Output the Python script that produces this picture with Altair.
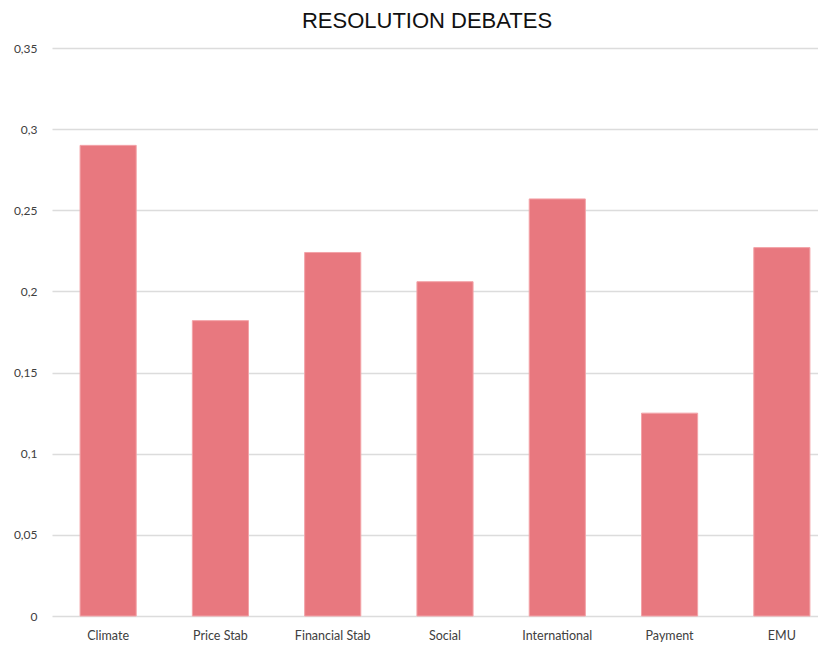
import altair as alt
import pandas as pd

categories = ["Climate", "Price Stab", "Financial Stab", "Social", "International", "Payment", "EMU"]
values = [0.290, 0.182, 0.224, 0.206, 0.257, 0.125, 0.227]
y_ticks = [0, 0.05, 0.1, 0.15, 0.2, 0.25, 0.3, 0.35]

df = pd.DataFrame({"category": categories, "value": values})

chart = alt.Chart(df).mark_bar(
    color="#E8787F", stroke="#F3A3A8", strokeWidth=1
).encode(
    x=alt.X("category:N", sort=categories, title=None,
            scale=alt.Scale(range=[0, 786], paddingInner=0.5, paddingOuter=0.25),
            axis=alt.Axis(labelAngle=0, ticks=False, domain=False, labelFont="Lato",
                          labelFontSize=12.5, labelColor="#404040", labelPadding=13,
                          labelBaseline="top")),
    y=alt.Y("value:Q", title=None,
            scale=alt.Scale(domain=[0, 0.35], nice=False, zero=True),
            axis=alt.Axis(values=y_ticks, labelExpr="replace(format(datum.value, '~r'), '.', ',')",
                          ticks=False, domain=False, labelFont="Lato", labelFontSize=12,
                          labelColor="#404040", labelPadding=15, gridColor="#dcdcdc",
                          gridWidth=1.5)),
).properties(
    width=766, height=568,
    title=alt.TitleParams("RESOLUTION DEBATES", font="Liberation Sans", fontSize=22,
                          fontWeight="normal", color="#111111", anchor="middle",
                          frame="group", dx=-8, offset=9),
    autosize=alt.AutoSizeParams(type="none"),
    padding={"left": 44, "top": 40, "right": 0, "bottom": 30},
).configure_view(stroke=None)

chart.save("out.html", embed_options={"renderer": "svg", "actions": False})
